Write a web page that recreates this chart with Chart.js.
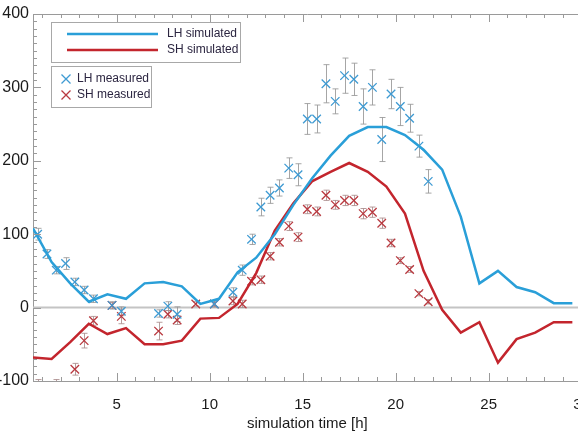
<!DOCTYPE html>
<html>
<head>
<meta charset="utf-8">
<script src="https://cdn.jsdelivr.net/npm/chart.js@4/dist/chart.umd.min.js"></script>
<style>
  html, body { margin: 0; padding: 0; background: #fff; overflow: hidden; }
  #wrap { position: relative; width: 605px; height: 433px; }
</style>
</head>
<body>
<div id="wrap"><canvas id="c"></canvas></div>
<script>
// simulated series, hourly (half past)
const simTime = [0.5, 1.5, 2.5, 3.5, 4.5, 5.5, 6.5, 7.5, 8.5, 9.5, 10.5, 11.5, 12.5, 13.5, 14.5,
  15.5, 16.5, 17.5, 18.5, 19.5, 20.5, 21.5, 22.5, 23.5, 24.5, 25.5, 26.5, 27.5, 28.5, 29.5];
const lhSim = [108, 62, 33, 8, 18, 12, 33, 35, 29, 5, 12, 48, 68, 100, 140,
  176, 207, 234, 246, 246, 235, 215, 188, 124, 33, 50, 28, 21, 6, 6];
const shSim = [-68, -70, -47, -22, -36, -28, -50, -50, -45, -15, -14, 5, 47, 105, 142,
  172, 185, 197, 185, 165, 128, 50, -3, -34, -20, -75, -43, -34, -20, -20];

// measurements
const lhTime = [0.75, 1.25, 1.75, 2.25, 2.75, 3.25, 3.75, 4.75, 5.25, 7.25, 7.75, 8.25, 10.25,
  11.25, 11.75, 12.25, 12.75, 13.25, 13.75, 14.25, 14.75, 15.25, 15.75, 16.25, 16.75,
  17.25, 17.75, 18.25, 18.75, 19.25, 19.75, 20.25, 20.75, 21.25, 21.75];
const lhMeas = [100, 73, 51, 60, 35, 24, 12, 3, -5, -8, 2, -9, 5,
  21, 51, 93, 137, 153, 163, 190, 181, 257, 257, 305, 281,
  316, 311, 274, 300, 229, 291, 274, 258, 220, 172];
const lhErr = [8, 6, 5, 8, 5, 5, 5, 5, 6, 5, 6, 10, 4,
  6, 7, 7, 12, 11, 11, 14, 15, 21, 19, 26, 17,
  24, 22, 24, 24, 30, 20, 26, 19, 15, 16];

const shTime = [0.75, 1.75, 2.75, 3.25, 3.75, 4.75, 5.25, 7.25, 7.75, 8.25, 9.25, 10.25,
  11.25, 11.75, 12.25, 12.75, 13.25, 13.75, 14.25, 14.75, 15.25, 15.75, 16.25, 16.75,
  17.25, 17.75, 18.25, 18.75, 19.25, 19.75, 20.25, 20.75, 21.25, 21.75];
const shMeas = [-112, -112, -84, -45, -18, 3, -12, -32, -9, -17, 5, 5,
  9, 5, 36, 38, 70, 89, 111, 96, 134, 131, 153, 140,
  146, 146, 128, 130, 115, 88, 64, 52, 19, 8];
const shErr = [14, 14, 8, 10, 6, 4, 10, 12, 5, 6, 3, 4,
  5, 5, 5, 5, 5, 5, 6, 6, 6, 6, 7, 6,
  7, 7, 7, 7, 7, 5, 4, 4, 3, 3];

const xTicks = [5, 10, 15, 20, 25, 30];
const yTicks = [-100, 0, 100, 200, 300, 400];

const pts = (xs, ys) => xs.map((x, i) => ({ x: x, y: ys[i] }));

const blueLine = '#2a9fd8';
const redLine = '#c3252d';
const blueX = '#3f9bd3';
const redX = '#b93a40';
const textCol = '#1a1a1a';
const axisCol = '#9a9a9a';

// error bars, zero line, inward ticks, top axis, legend boxes
const decor = {
  id: 'decor',
  beforeDatasetsDraw(chart) {
    const { ctx, chartArea: a, scales: { x, y } } = chart;
    ctx.save();
    ctx.beginPath();
    ctx.rect(a.left, a.top, a.right - a.left, a.bottom - a.top);
    ctx.clip();
    // zero line
    ctx.strokeStyle = '#c4c4c4';
    ctx.lineWidth = 2;
    ctx.beginPath();
    ctx.moveTo(a.left, y.getPixelForValue(0));
    ctx.lineTo(a.right, y.getPixelForValue(0));
    ctx.stroke();
    // error bars
    const bars = [[lhTime, lhMeas, lhErr, 'rgba(150,150,150,0.85)'],
                  [shTime, shMeas, shErr, 'rgba(170,140,140,0.85)']];
    ctx.lineWidth = 1;
    bars.forEach(([xs, ys, es, col]) => {
      ctx.strokeStyle = col;
      xs.forEach((t, i) => {
        const px = Math.round(x.getPixelForValue(t)) + 0.5;
        const y1 = y.getPixelForValue(ys[i] + es[i]);
        const y2 = y.getPixelForValue(ys[i] - es[i]);
        ctx.beginPath();
        ctx.moveTo(px, y1); ctx.lineTo(px, y2);
        ctx.moveTo(px - 3, y1); ctx.lineTo(px + 3, y1);
        ctx.moveTo(px - 3, y2); ctx.lineTo(px + 3, y2);
        ctx.stroke();
      });
    });
    ctx.restore();
  },
  afterDraw(chart) {
    const { ctx, chartArea: a, scales: { x, y } } = chart;
    ctx.save();
    ctx.strokeStyle = axisCol;
    ctx.lineWidth = 1;
    ctx.beginPath();
    // top axis line
    ctx.moveTo(a.left, a.top + 0.5);
    ctx.lineTo(a.right, a.top + 0.5);
    // x ticks (bottom up, top down)
    for (let v = 1; v <= 30; v++) {
      const px = Math.round(x.getPixelForValue(v)) + 0.5;
      const len = v % 5 === 0 ? 8 : 4;
      ctx.moveTo(px, a.bottom); ctx.lineTo(px, a.bottom - len);
      ctx.moveTo(px, a.top); ctx.lineTo(px, a.top + len);
    }
    // y ticks (left, pointing inward)
    for (let v = -100; v <= 400; v += 10) {
      const py = Math.round(y.getPixelForValue(v)) + 0.5;
      const len = v % 100 === 0 ? 8 : 4;
      ctx.moveTo(a.left, py); ctx.lineTo(a.left + len, py);
    }
    ctx.stroke();

    // legend boxes
    ctx.strokeStyle = '#a8a8a8';
    ctx.lineWidth = 1;
    ctx.strokeRect(51.5, 22.5, 189, 40);
    ctx.strokeRect(51.5, 66.5, 100, 41);
    ctx.lineWidth = 2.5;
    ctx.strokeStyle = blueLine;
    ctx.beginPath(); ctx.moveTo(67, 34); ctx.lineTo(158, 34); ctx.stroke();
    ctx.strokeStyle = redLine;
    ctx.beginPath(); ctx.moveTo(67, 50); ctx.lineTo(158, 50); ctx.stroke();
    const cross = (cx, cy, col) => {
      ctx.strokeStyle = col;
      ctx.lineWidth = 1.3;
      ctx.beginPath();
      ctx.moveTo(cx - 4.5, cy - 4.5); ctx.lineTo(cx + 4.5, cy + 4.5);
      ctx.moveTo(cx - 4.5, cy + 4.5); ctx.lineTo(cx + 4.5, cy - 4.5);
      ctx.stroke();
    };
    cross(66, 79, blueX);
    cross(66, 95, redX);
    ctx.fillStyle = '#2b2540';
    ctx.font = '12px "Liberation Sans", Arial, sans-serif';
    ctx.textBaseline = 'middle';
    ctx.fillText('LH simulated', 167, 34);
    ctx.fillText('SH simulated', 167, 50);
    ctx.fillText('LH measured', 77, 79);
    ctx.fillText('SH measured', 77, 95);
    ctx.restore();
  }
};

new Chart(document.getElementById('c'), {
  type: 'scatter',
  data: {
    datasets: [
      { label: 'LH simulated', data: pts(simTime, lhSim), showLine: true, borderColor: blueLine,
        borderWidth: 2.5, pointRadius: 0, fill: false, tension: 0 },
      { label: 'SH simulated', data: pts(simTime, shSim), showLine: true, borderColor: redLine,
        borderWidth: 2.5, pointRadius: 0, fill: false, tension: 0 },
      { label: 'LH measured', data: pts(lhTime, lhMeas), showLine: false, pointStyle: 'crossRot',
        pointRadius: 6, borderColor: blueX, backgroundColor: blueX, borderWidth: 1.3 },
      { label: 'SH measured', data: pts(shTime, shMeas), showLine: false, pointStyle: 'crossRot',
        pointRadius: 6, borderColor: redX, backgroundColor: redX, borderWidth: 1.3 }
    ]
  },
  options: {
    responsive: true,
    maintainAspectRatio: false,
    animation: false,
    events: [],
    layout: { padding: { top: 14, right: 0, left: 0, bottom: 0 } },
    plugins: { legend: { display: false }, tooltip: { enabled: false } },
    scales: {
      x: {
        type: 'linear', min: 0.5, max: 30,
        afterBuildTicks: s => { s.ticks = xTicks.map(v => ({ value: v })); },
        afterFit: s => { s.height = 52; },
        grid: { display: false, drawTicks: false },
        border: { display: true, color: axisCol, width: 1 },
        ticks: { color: textCol, padding: 15, maxRotation: 0,
          font: { family: '"Liberation Sans", Arial, sans-serif', size: 15 } },
        title: { display: true, text: 'simulation time [h]', color: textCol, padding: { top: 0, bottom: 0 },
          font: { family: '"Liberation Sans", Arial, sans-serif', size: 15 } }
      },
      y: {
        type: 'linear', min: -100, max: 400,
        afterBuildTicks: s => { s.ticks = yTicks.map(v => ({ value: v })); },
        afterFit: s => { s.width = 33; },
        grid: { display: false, drawTicks: false },
        border: { display: true, color: axisCol, width: 1 },
        ticks: { color: textCol, padding: 4,
          font: { family: '"Liberation Sans", Arial, sans-serif', size: 16 } }
      }
    }
  },
  plugins: [decor]
});
</script>
</body>
</html>
